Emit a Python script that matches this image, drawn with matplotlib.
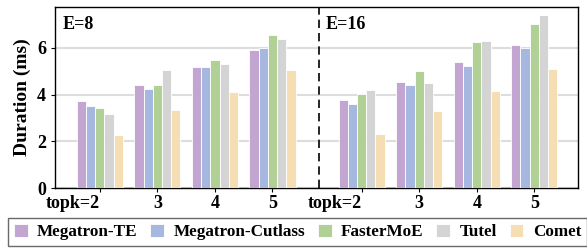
import numpy as np
import matplotlib
matplotlib.use("Agg")
import matplotlib.pyplot as plt
import matplotlib.transforms as mtransforms

plt.rcParams['font.family'] = ['Liberation Serif', 'DejaVu Serif']
plt.rcParams['font.weight'] = 'bold'

methods = ["Megatron-TE", "Megatron-Cutlass", "FasterMoE", "Tutel", "Comet"]
colors = ["#C3A5D1", "#A6B8DF", "#B1D095", "#D4D4D4", "#F5DEB3"]
topk = ["topk=2", "3", "4", "5"]

# rows: methods, cols: topk 2..5
e8 = [
    [3.71, 4.39, 5.17, 5.89],
    [3.53, 4.26, 5.20, 6.01],
    [3.41, 4.39, 5.46, 6.57],
    [3.19, 5.04, 5.29, 6.36],
    [2.29, 3.33, 4.13, 5.07],
]
e16 = [
    [3.76, 4.56, 5.39, 6.14],
    [3.61, 4.43, 5.24, 6.01],
    [4.04, 5.00, 6.23, 7.04],
    [4.21, 4.51, 6.31, 7.40],
    [2.33, 3.31, 4.17, 5.11],
]

fig = plt.figure(figsize=(5.87, 2.48), dpi=100)
ax = fig.add_axes([0.0937, 0.2419, 0.8910, 0.7299])

pos8 = np.arange(4)
pos16 = pos8 + 4.55
width = 0.16

for i, m in enumerate(methods):
    off = (i - 2) * width
    ax.bar(pos8 + off, e8[i], width, color=colors[i], edgecolor='white',
           linewidth=0.6, label=m, zorder=3)
    ax.bar(pos16 + off, e16[i], width, color=colors[i], edgecolor='white',
           linewidth=0.6, zorder=3)

ax.axvline(3.8, color='black', linestyle=(0, (5, 3)), linewidth=1.2, zorder=4)

ax.set_xlim(-0.78, 8.31)
ax.set_ylim(0, 7.75)
ax.set_yticks([0, 2, 4, 6])
ax.yaxis.grid(True, color='#DDDDDD', linewidth=1.5, zorder=0)
ax.set_axisbelow(True)

ax.set_xticks(np.concatenate([pos8, pos16]))
ax.set_xticklabels(topk + topk, fontsize=13, fontweight='bold')
for lab in ax.get_xticklabels():
    if lab.get_text().startswith("topk"):
        lab.set_horizontalalignment('right')
        lab.set_transform(lab.get_transform() +
                          mtransforms.ScaledTranslation(5 / 100, 0, fig.dpi_scale_trans))
ax.tick_params(axis='y', labelsize=13, length=3)
ax.tick_params(axis='x', length=3, pad=2)
for lab in ax.get_yticklabels():
    lab.set_fontweight('bold')

ax.set_ylabel("Duration (ms)", fontsize=14, fontweight='bold', labelpad=4)

ax.text(0.014, 0.95, "E=8", transform=ax.transAxes, fontsize=13,
        fontweight='bold', va='top', ha='left')
ax.text(0.517, 0.95, "E=16", transform=ax.transAxes, fontsize=13,
        fontweight='bold', va='top', ha='left')

for s in ax.spines.values():
    s.set_linewidth(1.0)

leg = fig.legend(loc='upper left', bbox_to_anchor=(8 / 587, 1 - 218 / 248),
                 ncol=5, prop={'size': 12.3, 'weight': 'bold'}, frameon=True,
                 fancybox=False, edgecolor='#444444', handlelength=0.8,
                 handleheight=0.8, columnspacing=0.75, handletextpad=0.55,
                 borderpad=0.35, borderaxespad=0)
leg.get_frame().set_linewidth(1.0)

fig.savefig("out.png", dpi=100)
